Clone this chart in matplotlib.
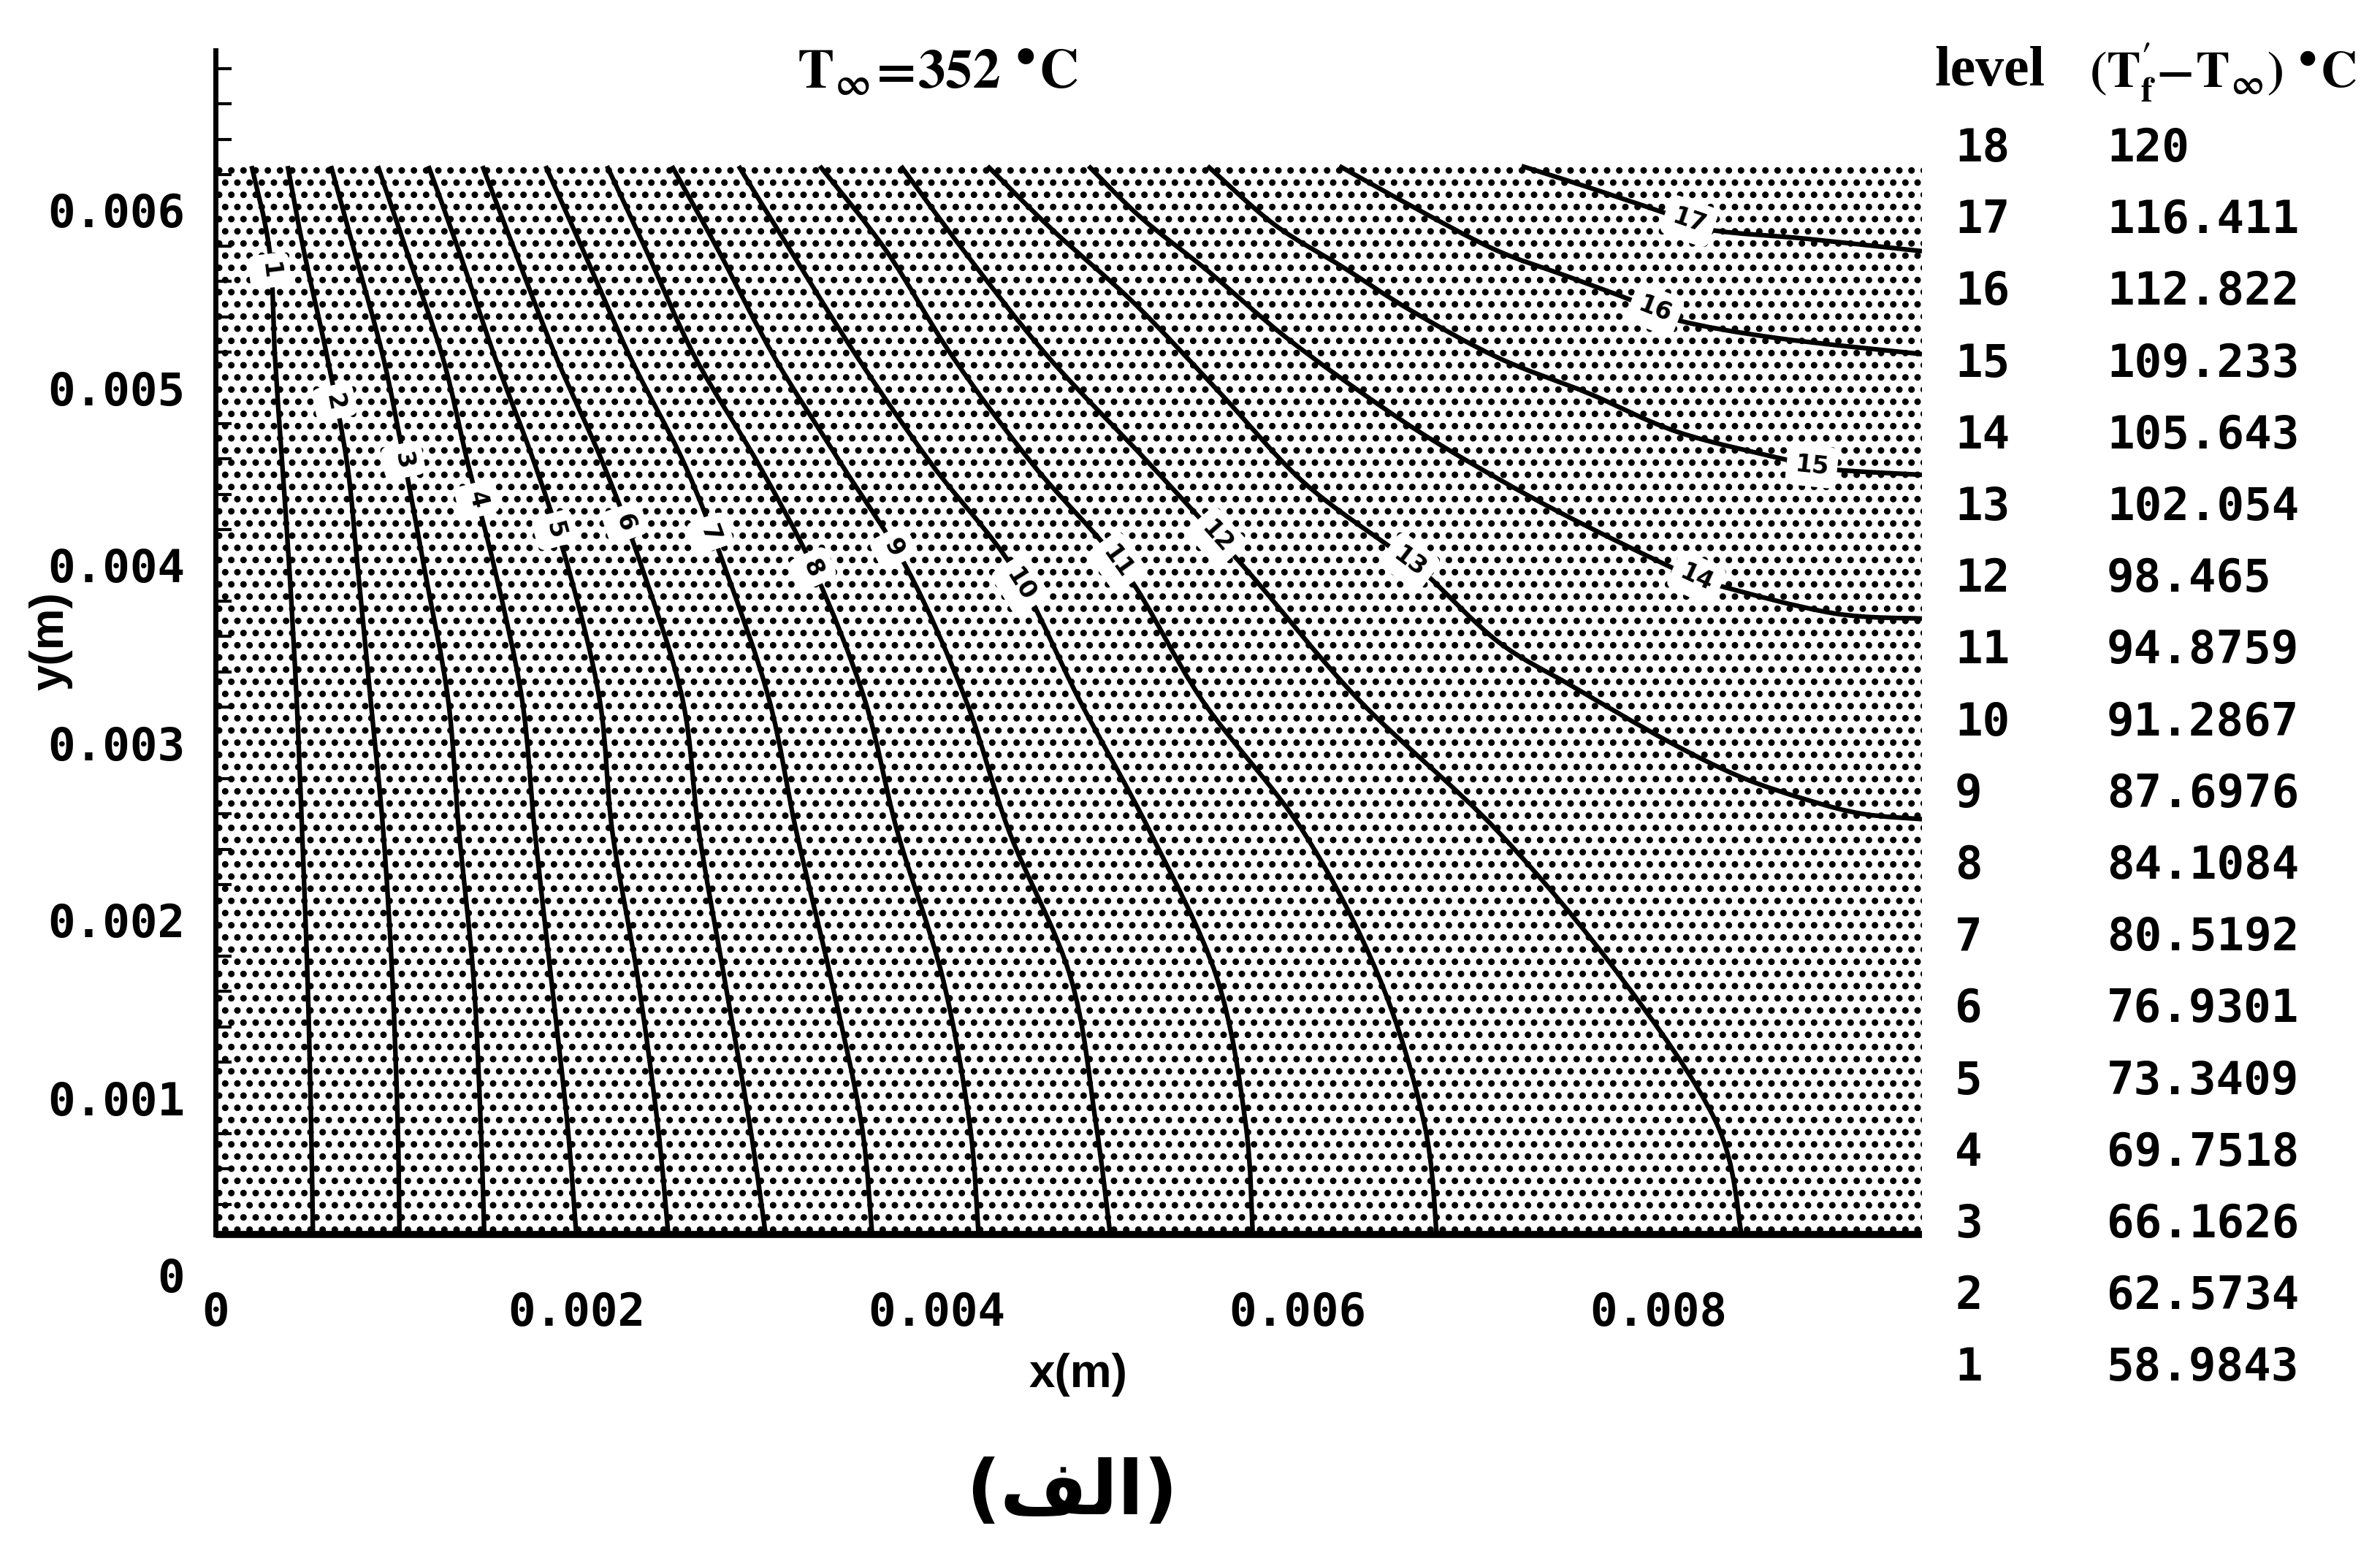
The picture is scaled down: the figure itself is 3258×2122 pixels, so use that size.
import numpy as np
import matplotlib
matplotlib.use('Agg')
import matplotlib.pyplot as plt
from matplotlib.patches import Rectangle, PathPatch
from matplotlib.path import Path

plt.rcParams['mathtext.fontset'] = 'stix'
plt.rcParams['hatch.linewidth'] = 4.0

# plate domain shown in the plot (m)
x_max = 0.00946
y_min = 0.00023
y_top = 0.00625

# contours 1-12 cross the plate from the top edge to the bottom edge,
# read at these heights
y_steep = [0.00625, 0.00577, 0.00517, 0.00457, 0.00397, 0.00324, 0.00250, 0.00168, 0.00086, 0.00023]
x_c1 = [0.00020, 0.00030, 0.00033, 0.00037, 0.00041, 0.00045, 0.00048, 0.00051, 0.00053, 0.00054]
x_c2 = [0.00040, 0.00049, 0.00062, 0.00073, 0.00079, 0.00086, 0.00093, 0.00098, 0.00101, 0.00102]
x_c3 = [0.00064, 0.00077, 0.00093, 0.00105, 0.00116, 0.00129, 0.00135, 0.00143, 0.00147, 0.00149]
x_c4 = [0.00090, 0.00106, 0.00126, 0.00140, 0.00155, 0.00170, 0.00177, 0.00186, 0.00195, 0.00200]
x_c5 = [0.00118, 0.00135, 0.00155, 0.00177, 0.00196, 0.00213, 0.00220, 0.00234, 0.00245, 0.00251]
x_c6 = [0.00148, 0.00166, 0.00189, 0.00215, 0.00237, 0.00259, 0.00268, 0.00282, 0.00296, 0.00305]
x_c7 = [0.00183, 0.00204, 0.00230, 0.00260, 0.00283, 0.00307, 0.00322, 0.00341, 0.00358, 0.00364]
x_c8 = [0.00217, 0.00239, 0.00266, 0.00301, 0.00332, 0.00360, 0.00378, 0.00403, 0.00418, 0.00423]
x_c9 = [0.00253, 0.00279, 0.00310, 0.00347, 0.00384, 0.00416, 0.00440, 0.00474, 0.00488, 0.00496]
x_c10 = [0.00290, 0.00319, 0.00356, 0.00397, 0.00443, 0.00479, 0.00518, 0.00555, 0.00571, 0.00575]
x_c11 = [0.00335, 0.00372, 0.00409, 0.00453, 0.00504, 0.00547, 0.00603, 0.00645, 0.00670, 0.00677]
x_c12 = [0.00380, 0.00415, 0.00462, 0.00518, 0.00572, 0.00634, 0.00711, 0.00779, 0.00832, 0.00846]

# contours 13-17 run from the top edge to the right edge
x_c13 = [0.00428, 0.00464, 0.00510, 0.00557, 0.00603, 0.00653, 0.00671, 0.00711, 0.00752, 0.00805, 0.00845, 0.00882, 0.00913, 0.00946]
y_c13 = [0.00625, 0.00589, 0.00547, 0.00497, 0.00447, 0.00409, 0.00395, 0.00357, 0.00332, 0.00301, 0.00281, 0.00268, 0.00260, 0.00257]
x_c14 = [0.00484, 0.00513, 0.00550, 0.00594, 0.00647, 0.00687, 0.00743, 0.00811, 0.00832, 0.00897, 0.00946]
y_c14 = [0.00625, 0.00596, 0.00566, 0.00528, 0.00489, 0.00463, 0.00431, 0.00397, 0.00389, 0.00373, 0.00370]
x_c15 = [0.00550, 0.00587, 0.00625, 0.00662, 0.00711, 0.00761, 0.00811, 0.00873, 0.00897, 0.00946]
y_c15 = [0.00625, 0.00592, 0.00568, 0.00544, 0.00517, 0.00497, 0.00475, 0.00459, 0.00454, 0.00451]
x_c16 = [0.00623, 0.00662, 0.00709, 0.00749, 0.00786, 0.00811, 0.00866, 0.00946]
y_c16 = [0.00625, 0.00603, 0.00578, 0.00563, 0.00549, 0.00538, 0.00528, 0.00519]
x_c17 = [0.00724, 0.00758, 0.00805, 0.00829, 0.00882, 0.00946]
y_c17 = [0.00625, 0.00614, 0.00598, 0.00589, 0.00584, 0.00577]

# inline contour labels (level number) and where they sit on each line
label_x = [0.00030, 0.00066, 0.00104, 0.00145, 0.00188, 0.00227, 0.00274, 0.00331, 0.00376,
           0.00446, 0.00500, 0.00555, 0.00662, 0.00821, 0.00885, 0.00798, 0.00817]
label_y = [0.00566, 0.00492, 0.00459, 0.00437, 0.00420, 0.00424, 0.00418, 0.00398, 0.00410,
           0.00389, 0.00402, 0.00416, 0.00402, 0.00393, 0.00456, 0.00544, 0.00594]

# level table on the right
level_no = [18, 17, 16, 15, 14, 13, 12, 11, 10, 9, 8, 7, 6, 5, 4, 3, 2, 1]
level_val = ['120', '116.411', '112.822', '109.233', '105.643', '102.054', '98.465',
             '94.8759', '91.2867', '87.6976', '84.1084', '80.5192', '76.9301',
             '73.3409', '69.7518', '66.1626', '62.5734', '58.9843']

x_tick = [0, 0.002, 0.004, 0.006, 0.008]
x_tick_lab = ['0', '0.002', '0.004', '0.006', '0.008']
y_tick = [0, 0.001, 0.002, 0.003, 0.004, 0.005, 0.006]
y_tick_lab = ['0', '0.001', '0.002', '0.003', '0.004', '0.005', '0.006']

W, H = 3258, 2122


def fx(px):
    return px / W


def fy(px):
    return 1 - px / H


def smooth_path(xs, ys):
    # Catmull-Rom through the read points, drawn as cubic Bezier pieces
    p = np.column_stack([xs, ys])
    q = np.vstack([p[0], p, p[-1]])
    verts = [p[0]]
    codes = [Path.MOVETO]
    for i in range(len(p) - 1):
        c1 = q[i + 1] + (q[i + 2] - q[i]) / 6
        c2 = q[i + 2] - (q[i + 3] - q[i + 1]) / 6
        verts += [c1, c2, q[i + 2]]
        codes += [Path.CURVE4] * 3
    return Path(verts, codes)


fig = plt.figure(figsize=(W / 100, H / 100), dpi=100)
ax = fig.add_axes([fx(295), fy(1746), fx(2631) - fx(295), (1746 - 45) / H])
ax.set_xlim(0, x_max)
ax.set_ylim(0, 0.0070)

# stippled plate
ax.add_patch(Rectangle((0, y_min), x_max, y_top - y_min, facecolor='white',
                       edgecolor='black', hatch='.', linewidth=0, zorder=1))

steep = [x_c1, x_c2, x_c3, x_c4, x_c5, x_c6, x_c7, x_c8, x_c9, x_c10, x_c11, x_c12]
lines = [(xs, y_steep) for xs in steep]
lines += [(x_c13, y_c13), (x_c14, y_c14), (x_c15, y_c15), (x_c16, y_c16), (x_c17, y_c17)]
for xs, ys in lines:
    ax.add_patch(PathPatch(smooth_path(xs, ys), facecolor='none', edgecolor='black',
                           lw=4.6, capstyle='butt', zorder=2))

# labels rotated along their line
for i, (xs, ys) in enumerate(lines):
    pts = ax.transData.transform(np.column_stack([xs, ys]))
    lp = ax.transData.transform((label_x[i], label_y[i]))
    k = int(np.argmin(np.hypot(pts[:, 0] - lp[0], pts[:, 1] - lp[1])))
    a = pts[max(k - 1, 0)]
    b = pts[min(k + 1, len(pts) - 1)]
    ang = np.degrees(np.arctan2(b[1] - a[1], b[0] - a[0]))
    if ang > 90:
        ang -= 180
    elif ang <= -90:
        ang += 180
    ax.text(label_x[i], label_y[i], str(i + 1), fontsize=24, fontweight='bold',
            family='DejaVu Sans', ha='center', va='center', rotation=ang,
            rotation_mode='anchor', zorder=3,
            bbox=dict(boxstyle='round,pad=0.35', facecolor='white', edgecolor='none'))

# frame: thick left axis reaching above the plate, thick bottom edge
for s in ['top', 'right', 'bottom']:
    ax.spines[s].set_visible(False)
ax.spines['left'].set_bounds(y_min, 0.0069)
ax.spines['left'].set_linewidth(5)
ax.spines['left'].set_zorder(4)
ax.plot([0, x_max], [y_min, y_min], color='black', lw=7, solid_capstyle='butt',
        zorder=4, clip_on=False)

ax.set_xticks(x_tick)
ax.set_xticklabels(x_tick_lab)
ax.set_yticks(y_tick)
ax.set_yticklabels(y_tick_lab)
ax.set_yticks([round(0.0004 + 0.0002 * k, 4) for k in range(33)], minor=True)
ax.tick_params(axis='x', length=0, pad=16, labelsize=45)
ax.tick_params(axis='y', which='major', length=0, pad=30, labelsize=45)
ax.tick_params(axis='y', which='minor', direction='in', length=16, width=3)
for lab in ax.get_xticklabels() + ax.get_yticklabels():
    lab.set_fontfamily('DejaVu Sans Mono')
    lab.set_fontweight('bold')

fig.text(fx(1476), fy(1882), 'x(m)', family='Liberation Sans', weight='bold',
         size=46, ha='center', va='center')
fig.text(fx(70), fy(878), 'y(m)', family='Liberation Sans', weight='bold',
         size=46, ha='center', va='center', rotation=90)

fig.text(fx(1283), fy(100), r'$\mathbf{T_{\infty}\!=\!352\ ^{\bullet}C}$',
         size=54, ha='center', va='center')

# level table
fig.text(fx(2649), fy(99), 'level', family='Liberation Serif', weight='bold',
         size=56, ha='left', va='center')
fig.text(fx(2860), fy(99), r"$\mathbf{(T^{\prime}_{f}\!-\!T_{\infty})\ ^{\bullet}C}$",
         size=50, ha='left', va='center')
for k, (n, v) in enumerate(zip(level_no, level_val)):
    yy = 204 + 98.2 * k
    fig.text(fx(2676), fy(yy), str(n), family='DejaVu Sans Mono', weight='bold',
             size=45, ha='left', va='center')
    fig.text(fx(2884), fy(yy), v, family='DejaVu Sans Mono', weight='bold',
             size=45, ha='left', va='center')

# panel caption "(الف)" written in presentation forms, visual order
fig.text(fx(1467), fy(2045), '(\ufed2\ufedf\ufe8d)', family=['DejaVu Sans'],
         weight='bold', size=74, ha='center', va='center')

fig.savefig('out.png', dpi=100, facecolor='white')
